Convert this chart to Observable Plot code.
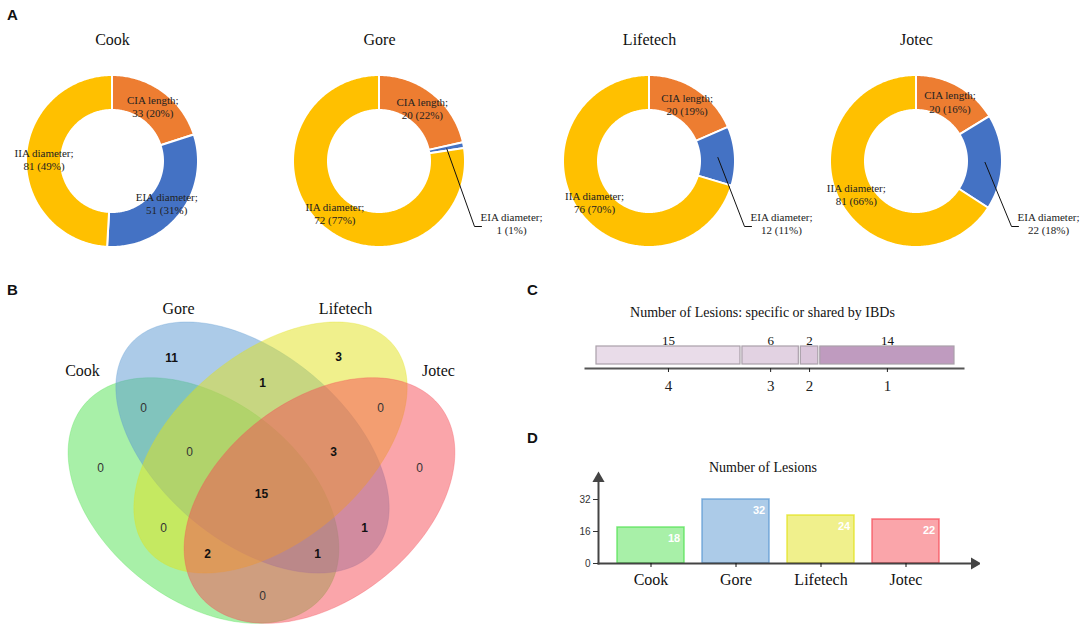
<!DOCTYPE html>
<html><head><meta charset="utf-8">
<script src="https://cdn.jsdelivr.net/npm/d3@7"></script>
<script src="https://cdn.jsdelivr.net/npm/@observablehq/plot@0.6"></script>
<style>
body{margin:0;background:#fff;}
#fig{position:relative;width:1084px;height:635px;overflow:hidden;background:#fff;}
.letter{position:absolute;font:bold 15px "Liberation Sans",Arial,sans-serif;color:#111;line-height:1;}
</style></head><body><div id="fig"></div>
<script>
// ---------- DATA ----------
const brands = ["Cook", "Gore", "Lifetech", "Jotec"];
const parts = ["CIA length", "EIA diameter", "IIA diameter"];
const ciaLength = [33, 20, 20, 20];
const eiaDiameter = [51, 1, 12, 22];
const iiaDiameter = [81, 72, 76, 81];
const partColors = ["#ED7D31", "#4472C4", "#FFC000"];

const vennColors = ["#51e151", "#5997d1", "#e1e119", "#f54b55"];
const vennRegions = ["Cook", "Gore", "Lifetech", "Jotec", "Cook&Gore", "Gore&Lifetech", "Lifetech&Jotec",
  "Cook&Gore&Lifetech", "Gore&Lifetech&Jotec", "Cook&Gore&Lifetech&Jotec", "Cook&Lifetech", "Gore&Jotec",
  "Cook&Lifetech&Jotec", "Cook&Gore&Jotec", "Cook&Jotec"];
const vennCounts = [0, 11, 3, 0, 0, 1, 0, 0, 3, 15, 0, 1, 2, 1, 0];

const sharedTitle = "Number of Lesions: specific or shared by IBDs";
const sharedBy = [4, 3, 2, 1];
const sharedCounts = [15, 6, 2, 14];
const sharedColors = ["#e9dce9", "#e2d2e2", "#dbc6db", "#bf9bbf"];

const lesionTitle = "Number of Lesions";
const lesionCounts = [18, 32, 24, 22];
const lesionTicks = [0, 16, 32];

// ---------- LAYOUT ----------
const serif = '"Liberation Serif","Times New Roman",serif';
const sans = '"Liberation Sans",Arial,sans-serif';
const fig = document.getElementById("fig");
function place(node, left, top) {
  node.style.position = "absolute";
  node.style.left = left + "px";
  node.style.top = top + "px";
  node.style.background = "transparent";
  fig.appendChild(node);
}
function letter(t, left, top) {
  const d = document.createElement("div");
  d.className = "letter"; d.textContent = t;
  d.style.left = left + "px"; d.style.top = top + "px";
  fig.appendChild(d);
}

// ---------- PANEL A : donuts ----------
const donutCenters = [112, 379, 649, 916];
const R = 86, r0 = 51;
const leaderElbow = [95, 65], leaderEnd = [102, 65], outLabel = [132, 62];

brands.forEach((brand, i) => {
  const values = [ciaLength[i], eiaDiameter[i], iiaDiameter[i]];
  const total = d3.sum(values);
  const arcs = d3.pie().sort(null)(values);
  const pts = [];
  arcs.forEach((a, j) => {
    const n = Math.max(3, Math.ceil((a.endAngle - a.startAngle) / 0.015));
    for (let k = 0; k <= n; k++) {
      const t = a.startAngle + (a.endAngle - a.startAngle) * k / n;
      pts.push({part: parts[j], xo: R * Math.sin(t), yo: -R * Math.cos(t), xi: r0 * Math.sin(t), yi: -r0 * Math.cos(t)});
    }
  });
  const labels = [], leaders = [];
  arcs.forEach((a, j) => {
    const m = (a.startAngle + a.endAngle) / 2, rc = (R + r0) / 2;
    const share = values[j] / total;
    const text = `${parts[j]};\n${values[j]} (${Math.round(share * 100)}%)`;
    const cx = rc * Math.sin(m), cy = -rc * Math.cos(m);
    if (j === 1 && share < 0.2) {
      leaders.push({x: cx, y: cy}, {x: leaderElbow[0], y: leaderElbow[1]}, {x: leaderEnd[0], y: leaderEnd[1]});
      labels.push({x: outLabel[0], y: outLabel[1], text});
    } else labels.push({x: cx, y: cy, text});
  });
  const svg = Plot.plot({
    width: 310, height: 262, margin: 0,
    style: {background: "transparent", fontFamily: sans, overflow: "visible"},
    x: {domain: [-134, 176], range: [0, 310], axis: null},
    y: {domain: [-161, 101], range: [0, 262], axis: null},
    color: {domain: parts, range: partColors},
    marks: [
      Plot.area(pts, {x1: "xi", y1: "yi", x2: "xo", y2: "yo", z: "part", fill: "part", stroke: "white", strokeWidth: 2, curve: "linear"}),
      Plot.line(leaders, {x: "x", y: "y", stroke: "#111", strokeWidth: 1}),
      Plot.text(labels, {x: "x", y: "y", text: "text", fontSize: 11, fontFamily: serif, lineHeight: 1.2, fill: "#222"}),
      Plot.text([brand], {text: d => d, x: () => 0, frameAnchor: "top", dy: 33, fontSize: 16, fontFamily: serif, fill: "#111"})
    ]
  });
  place(svg, donutCenters[i] - 134, 0);
});

// ---------- PANEL B : Venn ----------
const vennEllipses = [
  {cx: 203, cy: 230, a: 153, b: 100, angle: 38},
  {cx: 252, cy: 177, a: 160, b: 94, angle: 40},
  {cx: 270, cy: 177, a: 160, b: 94, angle: 140},
  {cx: 319, cy: 230, a: 153, b: 100, angle: 142}
];
const vennSetLabelPos = [[82, 100], [178, 38], [345, 38], [438, 100]];
const vennRegionPos = [[100, 198], [171, 88], [338, 87], [419, 198], [143, 138], [262, 113], [380, 138],
  [189, 182], [333, 182], [261, 224], [163, 258], [364, 258], [207, 284], [317, 284], [262, 326]];
function ellipsePts(e, n = 180) {
  const ca = Math.cos(e.angle * Math.PI / 180), sa = Math.sin(e.angle * Math.PI / 180);
  return d3.range(n).map(k => {
    const t = 2 * Math.PI * k / n, u = e.a * Math.cos(t), v = e.b * Math.sin(t);
    return {x: e.cx + u * ca - v * sa, y: e.cy + u * sa + v * ca};
  });
}
const regionData = vennCounts.map((c, i) => ({region: vennRegions[i], count: c, x: vennRegionPos[i][0], y: vennRegionPos[i][1]}));
const setLabelData = brands.map((b, i) => ({name: b, x: vennSetLabelPos[i][0], y: vennSetLabelPos[i][1]}));
const vennSvg = Plot.plot({
  width: 530, height: 365, margin: 0,
  style: {background: "transparent", fontFamily: sans},
  x: {domain: [0, 530], range: [0, 530], axis: null},
  y: {domain: [0, 365], range: [0, 365], axis: null},
  marks: [
    ...vennEllipses.map((e, i) => Plot.line(ellipsePts(e), {x: "x", y: "y", curve: "linear-closed", fill: vennColors[i], fillOpacity: 0.5, stroke: vennColors[i], strokeOpacity: 0.3, strokeWidth: 1})),
    Plot.text(setLabelData, {x: "x", y: "y", text: "name", fontSize: 16, fontFamily: serif, fill: "#111"}),
    Plot.text(regionData, {filter: d => d.count > 0, x: "x", y: "y", text: "count", fontSize: 12, fontWeight: "bold", fontFamily: sans, fill: "#111"}),
    Plot.text(regionData, {filter: d => d.count === 0, x: "x", y: "y", text: "count", fontSize: 12, fontFamily: sans, fill: "#333"})
  ]
});
place(vennSvg, 0, 270);

// ---------- PANEL C : shared lesions ----------
const cData = sharedBy.map((s, i) => ({shared: s, count: sharedCounts[i]}));
const cum = d3.cumsum(sharedCounts);
const mids = sharedCounts.map((c, i) => cum[i] - c / 2);
const midLabel = new Map(mids.map((m, i) => [m, sharedBy[i]]));
const cSvg = Plot.plot({
  width: 440, height: 130, marginLeft: 45, marginRight: 17, marginTop: 66, marginBottom: 42,
  style: {background: "transparent", fontFamily: sans},
  x: {domain: [0, d3.sum(sharedCounts)], range: [55, 415], axis: null},
  color: {type: "ordinal", domain: sharedBy, range: sharedColors},
  marks: [
    Plot.barX(cData, Plot.stackX({x: "count", fill: "shared", stroke: "#aaa0aa", strokeWidth: 1.2, insetLeft: 1, insetRight: 1, insetBottom: 4})),
    Plot.text(cData, Plot.stackX({x: "count", text: "count", frameAnchor: "top", dy: -11, fontSize: 13, fontFamily: serif, fill: "#111"})),
    Plot.frame({anchor: "bottom", stroke: "#555", strokeWidth: 2}),
    Plot.axisX({ticks: mids, tickFormat: d => midLabel.get(d), tickSize: 4, tickPadding: 8, fontSize: 15, fontFamily: serif, label: null, color: "#222"}),
    Plot.text([sharedTitle], {text: d => d, frameAnchor: "top", dy: -39, dx: -12, fontSize: 14, fontFamily: serif, fill: "#111"})
  ]
});
place(cSvg, 540, 280);

// ---------- PANEL D : lesions per IBD ----------
const dData = brands.map((b, i) => ({brand: b, count: lesionCounts[i]}));
const dSvg = Plot.plot({
  width: 420, height: 200, marginLeft: 38, marginRight: 5, marginTop: 57, marginBottom: 57,
  style: {background: "transparent", fontFamily: sans},
  x: {type: "band", domain: brands, range: [38, 397], padding: 0.215, axis: null},
  y: {domain: [0, 32], range: [143, 79], axis: null},
  color: {domain: brands, range: vennColors},
  marks: [
    Plot.barY(dData, {x: "brand", y: "count", fill: "brand", fillOpacity: 0.5, stroke: "brand", strokeOpacity: 0.75, strokeWidth: 1.5}),
    Plot.text(dData, {x: "brand", y: "count", text: "count", dx: 23, dy: 11, fill: "white", fontWeight: "bold", fontSize: 11, fontFamily: sans}),
    Plot.frame({anchor: "left", stroke: "#444", strokeWidth: 2}),
    Plot.frame({anchor: "bottom", stroke: "#444", strokeWidth: 2}),
    Plot.dot([0], {frameAnchor: "top-left", symbol: "triangle", r: 4.5, fill: "#444", stroke: "none", dy: 1}),
    Plot.dot([0], {frameAnchor: "bottom-right", symbol: "triangle", r: 4.5, fill: "#444", stroke: "none", rotate: 90, dx: -1}),
    Plot.axisY({ticks: lesionTicks, tickSize: 5, tickPadding: 3, fontSize: 10, fontFamily: sans, label: null, color: "#333"}),
    Plot.axisX({tickSize: 4, tickPadding: 6, fontSize: 16, fontFamily: serif, label: null, color: "#111"}),
    Plot.text([lesionTitle], {text: d => d, frameAnchor: "top", dy: -15, dx: -24, fontSize: 14, fontFamily: serif, fill: "#111"})
  ]
});
place(dSvg, 560, 420);

// ---------- panel letters ----------
letter("A", 7, 7);
letter("B", 7, 282);
letter("C", 527, 282);
letter("D", 527, 430);
</script></body></html>
